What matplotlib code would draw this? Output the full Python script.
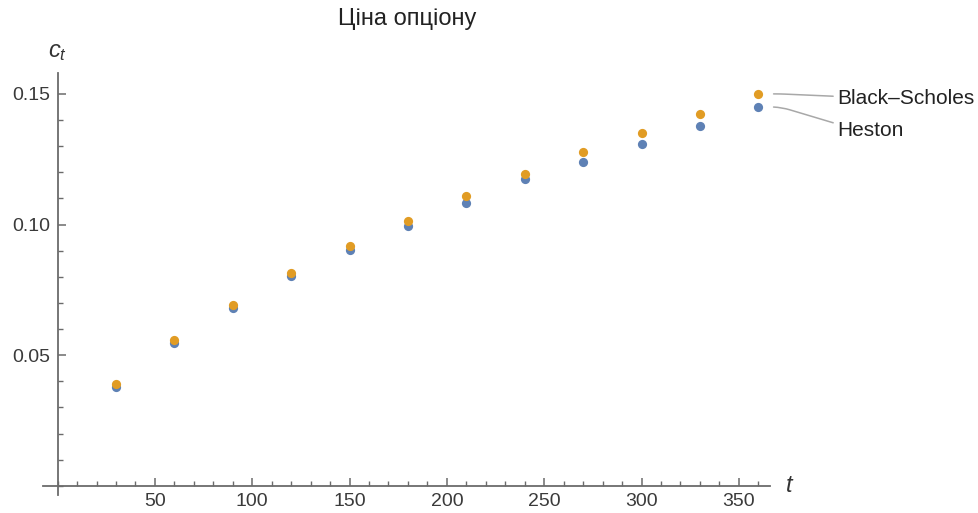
import matplotlib
matplotlib.use("Agg")
import matplotlib.pyplot as plt
from matplotlib.ticker import MultipleLocator, FixedLocator

t = [30, 60, 90, 120, 150, 180, 210, 240, 270, 300, 330, 360]
heston = [0.0377, 0.0546, 0.0681, 0.0804, 0.0904, 0.0996, 0.1081, 0.1173, 0.1238, 0.1308, 0.1377, 0.1450]
black_scholes = [0.0388, 0.0558, 0.0692, 0.0815, 0.0919, 0.1015, 0.1108, 0.1192, 0.1277, 0.1350, 0.1423, 0.1500]
x_ticks = [50, 100, 150, 200, 250, 300, 350]
y_ticks = [0.05, 0.10, 0.15]
y_tick_labels = ["0.05", "0.10", "0.15"]
title = "Ціна опціону"
series_names = ["Heston", "Black\u2013Scholes"]

plt.rcParams['font.family'] = ['Liberation Sans', 'DejaVu Sans']
plt.rcParams['mathtext.fontset'] = 'custom'
plt.rcParams['mathtext.it'] = 'Liberation Sans:italic'
plt.rcParams['mathtext.rm'] = 'Liberation Sans'

fig = plt.figure(figsize=(9.79, 5.13), dpi=100)
ax = fig.add_axes([0.0439, 0.0351, 0.7426, 0.8226])
ax.set_xlim(-7.5, 366)
ax.set_ylim(-0.0035, 0.158)

blue = "#5E81B5"
orange = "#E19C24"
ax.scatter(t, heston, s=44, color=blue, zorder=3, linewidths=0)
ax.scatter(t, black_scholes, s=44, color=orange, zorder=4, linewidths=0)

axis_col = "#6b6b6b"
for s in ["top", "right"]:
    ax.spines[s].set_visible(False)
ax.spines["left"].set_position(("data", 0))
ax.spines["bottom"].set_position(("data", 0))
for s in ["left", "bottom"]:
    ax.spines[s].set_color(axis_col)
    ax.spines[s].set_linewidth(1.3)

ax.xaxis.set_major_locator(FixedLocator(x_ticks))
ax.xaxis.set_minor_locator(MultipleLocator(10))
ax.yaxis.set_major_locator(FixedLocator(y_ticks))
ax.set_yticklabels(y_tick_labels)
ax.yaxis.set_minor_locator(MultipleLocator(0.01))
ax.tick_params(axis="both", which="major", direction="in", length=6, width=1.1,
               color=axis_col, labelsize=14, labelcolor="#3a3a3a")
ax.tick_params(axis="both", which="minor", direction="in", length=3.5, width=1.0,
               color=axis_col)
ax.tick_params(axis="x", which="major", pad=5)
ax.tick_params(axis="y", which="major", pad=5)

ax.text(0, 1.024, "$c_t$", transform=ax.get_xaxis_transform(), ha="center",
        va="bottom", fontsize=17, color="#333333")
ax.text(1.02, 0, "$t$", transform=ax.get_yaxis_transform(), ha="left",
        va="center", fontsize=17, color="#333333")

fig.text(0.416, 0.962, title, ha="center", va="center", fontsize=17, color="#222222")

line_col = "#a8a8a8"
ax.annotate(series_names[1], xy=(t[-1], black_scholes[-1]), xytext=(79, -5),
            textcoords="offset pixels", ha="left", va="center", fontsize=15,
            color="#222222",
            arrowprops=dict(arrowstyle="-", color=line_col, lw=1.1,
                            shrinkA=1, shrinkB=11,
                            connectionstyle="arc,angleA=180,angleB=0,armA=12,armB=22,rad=5"))
ax.annotate(series_names[0], xy=(t[-1], heston[-1]), xytext=(79, -24),
            textcoords="offset pixels", ha="left", va="center", fontsize=15,
            color="#222222",
            arrowprops=dict(arrowstyle="-", color=line_col, lw=1.1,
                            shrinkA=1, shrinkB=11,
                            connectionstyle="arc,angleA=180,angleB=0,armA=10,armB=22,rad=10"))

fig.savefig("out.png", dpi=100)
